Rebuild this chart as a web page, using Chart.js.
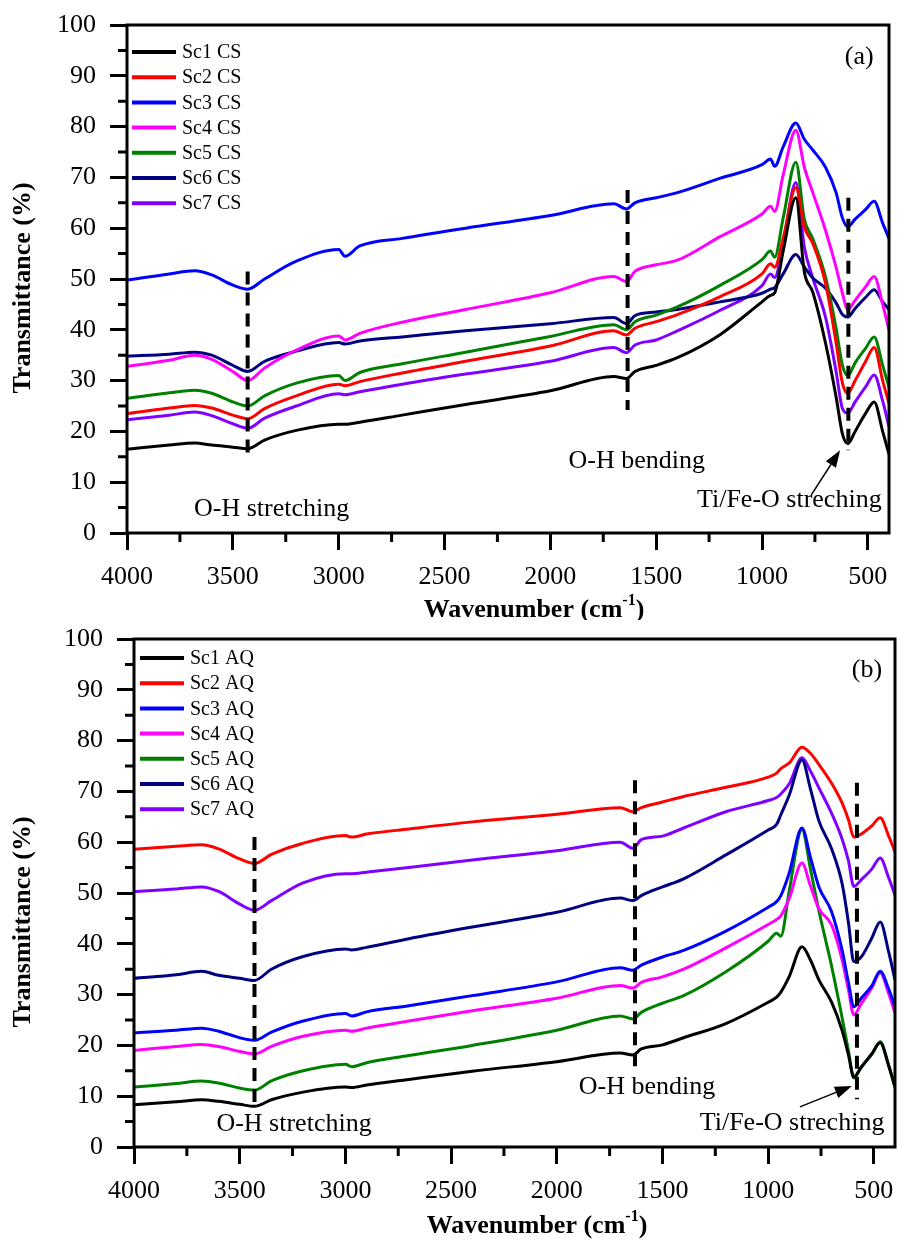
<!DOCTYPE html>
<html>
<head>
<meta charset="utf-8">
<title>FTIR spectra</title>
<script src="https://cdn.jsdelivr.net/npm/chart.js@4.4.1/dist/chart.umd.min.js"></script>
<style>
  html, body { margin: 0; padding: 0; background: #fff; }
  canvas { display: block; }
</style>
</head>
<body>
<canvas id="chartA" width="898" height="620"></canvas>
<canvas id="chartB" width="898" height="619"></canvas>
<script>
// wavenumber (cm-1) sampling used by every series
const wavenumbers = [4000, 3800, 3680, 3600, 3500, 3430, 3350, 3200, 3000, 2970, 2900, 2700, 2400, 2000, 1700, 1640, 1600, 1500, 1400, 1200, 1000, 960, 940, 900, 840, 800, 760, 700, 650, 620, 595, 560, 510, 470, 430, 400];

const xMajor = [4000, 3500, 3000, 2500, 2000, 1500, 1000, 500];
const xMinor = [3750, 3250, 2750, 2250, 1750, 1250, 750];
const yMinor = [5, 15, 25, 35, 45, 55, 65, 75, 85, 95];

const seriesColors = ['#000000', '#ff0000', '#0000ff', '#ff00ff', '#008000', '#000080', '#8000ff'];

// (a) CS samples, transmittance %
const labelsCS = ['Sc1 CS', 'Sc2 CS', 'Sc3 CS', 'Sc4 CS', 'Sc5 CS', 'Sc6 CS', 'Sc7 CS'];
const sc1CS = [16.5, 17.3, 17.7, 17.3, 16.9, 16.6, 18.3, 20.2, 21.4, 21.4, 21.8, 23.2, 25.3, 28, 30.8, 30.4, 31.8, 33, 34.5, 39, 45.5, 46.8, 47.3, 55.5, 66, 51.4, 47.4, 37.4, 26.8, 19.5, 17.6, 20, 23.6, 25.8, 20, 15.5];
const sc2CS = [23.5, 24.6, 25.1, 24.6, 23.2, 22.5, 24.5, 27, 29.3, 29, 29.8, 31.5, 33.8, 36.8, 39.8, 39, 40.3, 41.6, 43, 46.5, 51, 53, 52.3, 58, 68, 60.2, 57, 49.2, 37.5, 29.5, 27.5, 30, 33.8, 36.5, 30, 25.5];
const sc3CS = [49.8, 51, 51.6, 50.8, 48.8, 48, 50, 53.5, 55.8, 54.5, 56.5, 58, 60, 62.5, 64.8, 63.8, 65, 66, 67, 69.8, 72.5, 73.6, 72.2, 76, 80.7, 77.5, 75.4, 72, 67, 62, 60.3, 61.8, 63.7, 65.3, 61, 58];
const sc4CS = [32.8, 34, 35, 34.2, 31.8, 30, 32.5, 36, 38.8, 38, 39.3, 41.5, 44, 47.3, 50.5, 49.5, 51.5, 52.8, 53.7, 58.3, 62.8, 64.3, 63.3, 70.5, 79.3, 72, 67, 59.6, 52.3, 47.2, 44, 45.8, 48.5, 50.5, 45, 40];
const sc5CS = [26.5, 27.6, 28.1, 27.5, 25.8, 25, 27, 29.5, 31, 30, 31.6, 33.3, 35.6, 38.7, 41, 40, 41.6, 42.9, 44.5, 48.7, 53.8, 55.5, 54.3, 62, 73, 61.8, 57.9, 50.4, 40.3, 33, 31, 33.5, 36.4, 38.6, 33, 28.7];
const sc6CS = [34.8, 35.2, 35.6, 35, 33, 31.8, 33.8, 35.8, 37.5, 37.2, 37.8, 38.6, 39.8, 41.2, 42.4, 41.2, 42.8, 43.5, 44, 45.5, 47.2, 48, 48.3, 51, 54.8, 52.4, 50.2, 48.2, 45.3, 43, 42.5, 44.2, 46.4, 47.9, 45.5, 44];
const sc7CS = [22.3, 23.2, 23.8, 23.1, 21.5, 20.6, 22.6, 25, 27.4, 27.2, 27.8, 29.3, 31.3, 33.8, 36.5, 35.5, 37, 38, 39.8, 43.8, 48.7, 51, 50.3, 57, 69, 56.3, 50.2, 42.5, 31.8, 24.5, 23.6, 25.8, 28.8, 31.1, 26, 20.9];

// (b) AQ samples, transmittance %
const labelsAQ = ['Sc1 AQ', 'Sc2 AQ', 'Sc3 AQ', 'Sc4 AQ', 'Sc5 AQ', 'Sc6 AQ', 'Sc7 AQ'];
const sc1AQ = [8.3, 8.9, 9.3, 9, 8.4, 8, 9.3, 10.8, 11.8, 11.7, 12.2, 13.3, 14.9, 16.8, 18.5, 18.1, 19.3, 20.1, 21.5, 24.3, 28.5, 29.5, 30.5, 33.6, 39.4, 36.8, 32.9, 28.5, 22.9, 18.1, 13.8, 15.7, 18.3, 20.5, 16, 11.8];
const sc2AQ = [58.6, 59.2, 59.5, 58.7, 56.7, 55.8, 57.6, 59.8, 61.3, 61, 61.6, 62.6, 64, 65.5, 66.8, 66, 66.8, 67.9, 69, 70.8, 72.8, 73.6, 74.5, 75.6, 78.7, 77.5, 75.3, 71.6, 67.7, 64.4, 61, 61.6, 63.2, 64.8, 61.2, 58.1];
const sc3AQ = [22.5, 23, 23.4, 22.8, 21.5, 21, 22.6, 24.8, 26.3, 25.8, 26.6, 27.8, 29.8, 32.5, 35.3, 34.8, 35.8, 37.4, 38.7, 42.5, 47.2, 48.3, 49.5, 54, 62.8, 57, 51.2, 46.3, 38.7, 32.3, 27.6, 29.3, 31.7, 34.6, 31.1, 27.6];
const sc4AQ = [19, 19.8, 20.2, 19.8, 18.8, 18.3, 19.8, 21.8, 23, 22.8, 23.4, 24.8, 26.8, 29.3, 31.8, 31.3, 32.4, 33.5, 35, 39.2, 43.8, 44.8, 45.5, 49, 55.9, 51.4, 46.9, 43.7, 36.8, 30.9, 26, 28.2, 31.3, 34.3, 30.2, 26.4];
const sc5AQ = [11.8, 12.5, 13, 12.6, 11.6, 11.2, 13, 15, 16.3, 15.8, 16.6, 18, 20, 23, 25.8, 25.2, 26.5, 28.3, 29.8, 34.5, 40.5, 42.1, 41.5, 50.5, 62.5, 54.7, 46.5, 35.6, 25.4, 18.9, 13.6, 15.7, 18.3, 20.7, 16.1, 11.8];
const sc6AQ = [33.2, 33.9, 34.6, 33.8, 33.2, 32.8, 35, 37.5, 39, 38.8, 39.3, 41, 43.3, 46.2, 49, 48.5, 49.5, 51.2, 52.8, 57.5, 62.4, 63.5, 65.4, 69.3, 76.2, 70.5, 64.2, 58.7, 51.8, 44.1, 36.5, 37.4, 41.1, 44.3, 38.4, 32.9];
const sc7AQ = [50.3, 50.8, 51.2, 50.3, 47.8, 46.6, 48.5, 52, 53.8, 53.8, 54.1, 55, 56.5, 58.3, 60, 58.8, 60.5, 61.2, 62.8, 66, 68.2, 68.8, 69.5, 71.5, 76.6, 74, 70.7, 65.7, 60.6, 56.3, 51.3, 52.6, 54.7, 56.9, 53, 49.6];

const SERIF = "'Liberation Serif', 'Times New Roman', serif";

// frame, minor ticks, dashed band markers, notes, legend and axis titles
const decor = {
  id: 'decor',
  afterDraw(chart, args, o) {
    const { ctx, chartArea: a } = chart;
    const x = chart.scales.x, y = chart.scales.y;
    ctx.save();
    ctx.strokeStyle = '#000';
    ctx.fillStyle = '#000';

    ctx.lineWidth = 3;
    ctx.strokeRect(a.left, a.top, a.right - a.left, a.bottom - a.top);

    ctx.beginPath();
    xMinor.forEach(v => {
      const px = x.getPixelForValue(v);
      ctx.moveTo(px, a.bottom); ctx.lineTo(px, a.bottom + 9);
    });
    yMinor.forEach(v => {
      const py = y.getPixelForValue(v);
      ctx.moveTo(a.left, py); ctx.lineTo(a.left - 9, py);
    });
    ctx.stroke();

    // dashed lines marking the bands
    ctx.lineWidth = 4;
    ctx.setLineDash([13, 8]);
    o.markers.forEach(([w, lo, hi]) => {
      const px = x.getPixelForValue(w);
      ctx.beginPath();
      ctx.moveTo(px, y.getPixelForValue(hi));
      ctx.lineTo(px, y.getPixelForValue(lo));
      ctx.stroke();
    });
    ctx.setLineDash([]);

    // text notes
    ctx.font = '26px ' + SERIF;
    ctx.textAlign = 'center';
    ctx.textBaseline = 'middle';
    o.notes.forEach(([txt, w, v]) => {
      ctx.fillText(txt, x.getPixelForValue(w), y.getPixelForValue(v));
    });

    // arrow to the Ti/Fe-O band
    const [w0, v0, w1, v1] = o.arrow;
    const x0 = x.getPixelForValue(w0), y0 = y.getPixelForValue(v0);
    const x1 = x.getPixelForValue(w1), y1 = y.getPixelForValue(v1);
    const ang = Math.atan2(y1 - y0, x1 - x0);
    const hl = 17, hw = 6;
    ctx.lineWidth = 1.5;
    ctx.beginPath();
    ctx.moveTo(x0, y0);
    ctx.lineTo(x1 - Math.cos(ang) * hl, y1 - Math.sin(ang) * hl);
    ctx.stroke();
    ctx.beginPath();
    ctx.moveTo(x1, y1);
    ctx.lineTo(x1 - Math.cos(ang) * hl - Math.sin(ang) * hw, y1 - Math.sin(ang) * hl + Math.cos(ang) * hw);
    ctx.lineTo(x1 - Math.cos(ang) * hl + Math.sin(ang) * hw, y1 - Math.sin(ang) * hl - Math.cos(ang) * hw);
    ctx.closePath();
    ctx.fill();

    // legend
    ctx.font = '20px ' + SERIF;
    ctx.textAlign = 'left';
    chart.data.datasets.forEach((ds, i) => {
      const ly = o.legend.top + i * 25.2;
      ctx.strokeStyle = ds.borderColor;
      ctx.lineWidth = 4;
      ctx.beginPath();
      ctx.moveTo(o.legend.x, ly);
      ctx.lineTo(o.legend.x + 44, ly);
      ctx.stroke();
      ctx.fillStyle = '#000';
      ctx.fillText(ds.label, o.legend.x + 50, ly + 1);
    });

    // y title
    ctx.font = 'bold 26px ' + SERIF;
    ctx.textAlign = 'center';
    ctx.save();
    ctx.translate(o.yTitle[0], o.yTitle[1]);
    ctx.rotate(-Math.PI / 2);
    ctx.fillText('Transmittance (%)', 0, 0);
    ctx.restore();

    // x title with superscript
    const main = 'Wavenumber (cm', sup = '-1', tail = ')';
    ctx.font = 'bold 26px ' + SERIF;
    const wMain = ctx.measureText(main).width, wTail = ctx.measureText(tail).width;
    ctx.font = 'bold 16px ' + SERIF;
    const wSup = ctx.measureText(sup).width;
    let tx = o.xTitle[0] - (wMain + wSup + wTail) / 2;
    const ty = o.xTitle[1];
    ctx.textAlign = 'left';
    ctx.font = 'bold 26px ' + SERIF;
    ctx.fillText(main, tx, ty);
    tx += wMain;
    ctx.font = 'bold 16px ' + SERIF;
    ctx.fillText(sup, tx, ty - 9);
    tx += wSup;
    ctx.font = 'bold 26px ' + SERIF;
    ctx.fillText(tail, tx, ty);

    ctx.restore();
  }
};

function makeChart(id, labels, series, cfg) {
  const datasets = series.map((vals, i) => ({
    label: labels[i],
    data: wavenumbers.map((w, j) => ({ x: w, y: vals[j] })),
    borderColor: seriesColors[i],
    backgroundColor: seriesColors[i],
    borderWidth: 3,
    pointRadius: 0,
    cubicInterpolationMode: 'monotone',
    fill: false
  }));

  const tickFont = { family: SERIF, size: 26 };
  const grid = { drawOnChartArea: false, drawTicks: true, tickLength: 17, tickWidth: 3, tickColor: '#000' };

  return new Chart(document.getElementById(id), {
    type: 'line',
    data: { datasets },
    options: {
      responsive: false,
      animation: false,
      devicePixelRatio: 1,
      layout: { padding: { left: 0, top: cfg.top, right: cfg.right, bottom: 0 } },
      plugins: {
        legend: { display: false },
        tooltip: { enabled: false },
        decor: cfg.decor
      },
      scales: {
        x: {
          type: 'linear',
          min: 400,
          max: 4000,
          reverse: true,
          afterBuildTicks: s => { s.ticks = xMajor.map(v => ({ value: v })); },
          afterFit: s => { s.height = cfg.xAxisHeight; s.paddingLeft = 0; s.paddingRight = 0; },
          ticks: { font: tickFont, color: '#000', padding: 12, maxRotation: 0, autoSkip: false, callback: v => String(v) },
          grid: grid,
          border: { display: false }
        },
        y: {
          min: 0,
          max: 100,
          afterFit: s => { s.width = cfg.yAxisWidth; s.paddingTop = 0; s.paddingBottom = 0; },
          ticks: { stepSize: 10, font: tickFont, color: '#000', padding: 14 },
          grid: grid,
          border: { display: false }
        }
      }
    },
    plugins: [decor]
  });
}

makeChart('chartA', labelsCS, [sc1CS, sc2CS, sc3CS, sc4CS, sc5CS, sc6CS, sc7CS], {
  top: 25, right: 9, yAxisWidth: 127, xAxisHeight: 87,
  decor: {
    markers: [[3430, 14.8, 51.5], [1635, 24.2, 67.5], [592, 16.3, 66]],
    notes: [['O-H stretching', 3317, 4.7], ['O-H bending', 1592, 14.2], ['Ti/Fe-O streching', 871, 6.5], ['(a)', 541, 93.7]],
    arrow: [767, 7.5, 631, 16.3],
    legend: { x: 132, top: 52 },
    yTitle: [23, 288],
    xTitle: [534, 610]
  }
});

makeChart('chartB', labelsAQ, [sc1AQ, sc2AQ, sc3AQ, sc4AQ, sc5AQ, sc6AQ, sc7AQ], {
  top: 19, right: 3, yAxisWidth: 134, xAxisHeight: 92,
  decor: {
    markers: [[3430, 7.7, 61], [1630, 15.2, 72.2], [580, 9.4, 71.7]],
    notes: [['O-H stretching', 3243, 4.5], ['O-H bending', 1573, 11.8], ['Ti/Fe-O streching', 887, 4.7], ['(b)', 533, 93.9]],
    arrow: [850, 7.9, 604, 12],
    legend: { x: 140, top: 38 },
    yTitle: [23, 302],
    xTitle: [537, 606]
  }
});
</script>
</body>
</html>
